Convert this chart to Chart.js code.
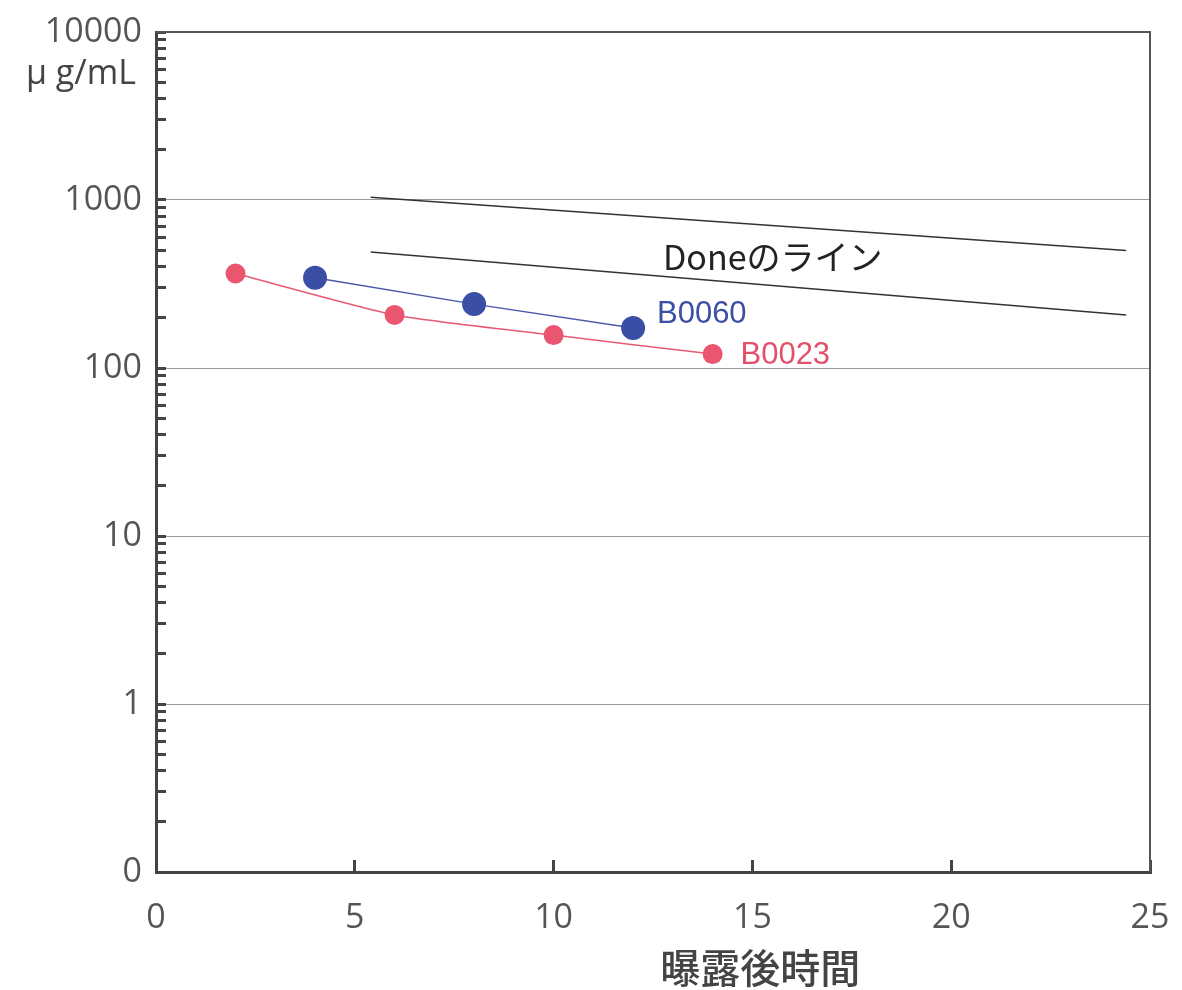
<!DOCTYPE html>
<html>
<head>
<meta charset="utf-8">
<script src="https://cdn.jsdelivr.net/npm/chart.js@4.4.1/dist/chart.umd.min.js"></script>
<style>
  body { margin: 0; background: #fff; }
  #wrap { width: 1182px; height: 990px; }
</style>
</head>
<body>
<div id="wrap"><canvas id="grafico" width="1182" height="990"></canvas></div>
<script>
// datos
const horasB0023 = [2, 6, 10, 14];
const valoresB0023 = [365, 207, 157, 121];
const horasB0060 = [4, 8, 12];
const valoresB0060 = [344, 240, 173];
const horasDone = [5.4, 24.4];
const doneSuperior = [1040, 500];
const doneInferior = [490, 207];

const xTicks = [0, 5, 10, 15, 20, 25];
const yDecadas = [0.1, 1, 10, 100, 1000, 10000];
const yEtiquetas = ['0', '1', '10', '100', '1000', '10000'];

function pares(xs, ys) {
    return xs.map((x, i) => ({ x: x, y: ys[i] }));
}

function esDecada(v) {
    return yDecadas.some(d => Math.abs(d - v) < d * 1e-6);
}

// ticks del eje log: decadas y menores 2..9
const ticksY = [];
yDecadas.forEach((d, i) => {
    ticksY.push({ value: d });
    if (i < yDecadas.length - 1) {
        for (let m = 2; m <= 9; m++) ticksY.push({ value: d * m });
    }
});

const textos = {
    id: 'textos',
    afterDraw(chart) {
        const { ctx, chartArea, scales } = chart;
        const x = scales.x;
        const y = scales.y;
        ctx.save();

        ctx.strokeStyle = '#555';
        ctx.lineWidth = 2;
        ctx.beginPath();
        ctx.moveTo(chartArea.left, chartArea.top);
        ctx.lineTo(chartArea.right, chartArea.top);
        ctx.lineTo(chartArea.right, chartArea.bottom);
        ctx.stroke();

        ctx.textBaseline = 'middle';
        ctx.textAlign = 'left';

        ctx.fillStyle = '#222';
        ctx.font = '34px "Noto Sans CJK JP"';
        ctx.fillText('Doneのライン', x.getPixelForValue(12.75), y.getPixelForValue(458));

        ctx.font = '31px "Liberation Sans"';
        ctx.fillStyle = '#3d4fa3';
        ctx.fillText('B0060', x.getPixelForValue(12.6), y.getPixelForValue(209));
        ctx.fillStyle = '#e4506a';
        ctx.fillText('B0023', x.getPixelForValue(14.7), y.getPixelForValue(119));

        ctx.textAlign = 'right';
        ctx.fillStyle = '#444';
        ctx.font = '34px "Open Sans"';
        ctx.fillText('μ g/mL', chartArea.left - 20, y.getPixelForValue(5600));

        ctx.textAlign = 'center';
        ctx.font = '500 40px "Noto Sans CJK JP"';
        ctx.fillText('曝露後時間', x.getPixelForValue(15.2), chartArea.bottom + 96);
        ctx.restore();
    }
};

new Chart(document.getElementById('grafico'), {
    type: 'line',
    data: {
        datasets: [
            {
                label: 'B0060',
                data: pares(horasB0060, valoresB0060),
                borderColor: '#4a58a8',
                backgroundColor: '#3a4ea6',
                borderWidth: 1.5,
                pointRadius: 12,
                pointBorderWidth: 0,
                tension: 0
            },
            {
                label: 'B0023',
                data: pares(horasB0023, valoresB0023),
                borderColor: '#e85a72',
                backgroundColor: '#ea5670',
                borderWidth: 1.5,
                pointRadius: 10,
                pointBorderWidth: 0,
                tension: 0.2
            },
            {
                label: 'Done1',
                data: pares(horasDone, doneSuperior),
                borderColor: '#333',
                borderWidth: 1.5,
                pointRadius: 0
            },
            {
                label: 'Done2',
                data: pares(horasDone, doneInferior),
                borderColor: '#333',
                borderWidth: 1.5,
                pointRadius: 0
            }
        ]
    },
    options: {
        responsive: false,
        animation: false,
        devicePixelRatio: 1,
        layout: { padding: { top: 32, right: 32, left: 0, bottom: 0 } },
        plugins: {
            legend: { display: false },
            tooltip: { enabled: false }
        },
        scales: {
            x: {
                type: 'linear',
                min: 0,
                max: 25,
                afterBuildTicks: (scale) => { scale.ticks = xTicks.map(v => ({ value: v })); },
                afterFit: (scale) => {
                    scale.height = 118;
                    scale.paddingLeft = 0;
                    scale.paddingRight = 0;
                },
                ticks: {
                    padding: 38,
                    color: '#555',
                    font: { family: 'Open Sans', size: 34 }
                },
                grid: {
                    drawOnChartArea: false,
                    tickLength: -12,
                    tickWidth: 3,
                    tickColor: '#444'
                },
                border: { color: '#444', width: 3 }
            },
            y: {
                type: 'logarithmic',
                min: 0.1,
                max: 10000,
                afterBuildTicks: (scale) => { scale.ticks = ticksY.map(t => ({ value: t.value })); },
                afterFit: (scale) => {
                    scale.width = 156;
                    scale.paddingTop = 0;
                    scale.paddingBottom = 0;
                },
                ticks: {
                    autoSkip: false,
                    padding: 24,
                    color: '#555',
                    font: { family: 'Open Sans', size: 34 },
                    callback: (v) => {
                        const i = yDecadas.findIndex(d => Math.abs(d - v) < d * 1e-6);
                        return i >= 0 ? yEtiquetas[i] : '';
                    }
                },
                grid: {
                    color: (c) => (c.tick && esDecada(c.tick.value)) ? '#9a9a9a' : 'rgba(0,0,0,0)',
                    lineWidth: 1,
                    tickColor: '#444',
                    tickLength: -10,
                    tickWidth: 3
                },
                border: { color: '#444', width: 3 }
            }
        }
    },
    plugins: [textos]
});
</script>
</body>
</html>
